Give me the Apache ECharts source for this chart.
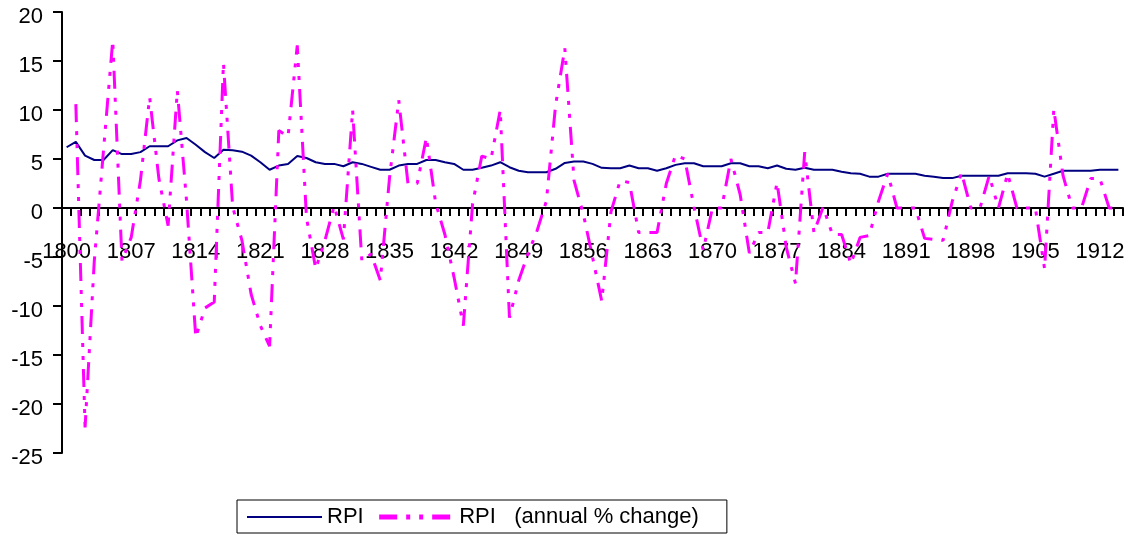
<!DOCTYPE html>
<html>
<head>
<meta charset="utf-8">
<script src="https://cdn.jsdelivr.net/npm/echarts@6/dist/echarts.min.js"></script>
<style>
html,body{margin:0;padding:0;background:#fff;}
#c{width:1134px;height:535px;}
</style>
</head>
<body>
<div id="c"></div>
<script>
var years = ['1800','1801','1802','1803','1804','1805','1806','1807','1808','1809',
'1810','1811','1812','1813','1814','1815','1816','1817','1818','1819',
'1820','1821','1822','1823','1824','1825','1826','1827','1828','1829',
'1830','1831','1832','1833','1834','1835','1836','1837','1838','1839',
'1840','1841','1842','1843','1844','1845','1846','1847','1848','1849',
'1850','1851','1852','1853','1854','1855','1856','1857','1858','1859',
'1860','1861','1862','1863','1864','1865','1866','1867','1868','1869',
'1870','1871','1872','1873','1874','1875','1876','1877','1878','1879',
'1880','1881','1882','1883','1884','1885','1886','1887','1888','1889',
'1890','1891','1892','1893','1894','1895','1896','1897','1898','1899',
'1900','1901','1902','1903','1904','1905','1906','1907','1908','1909',
'1910','1911','1912','1913','1914'];

var rpi = [6.2,6.75,5.35,4.9,4.9,5.9,5.5,5.5,5.7,6.3,
6.3,6.3,6.9,7.15,6.45,5.7,5.1,5.95,5.9,5.75,
5.35,4.67,3.9,4.33,4.5,5.3,5.1,4.67,4.5,4.5,
4.26,4.67,4.5,4.2,3.9,3.9,4.33,4.5,4.5,4.9,
4.9,4.67,4.5,3.9,3.9,4.1,4.33,4.67,4.16,3.8,
3.65,3.65,3.65,4.0,4.6,4.74,4.74,4.5,4.1,4.05,
4.05,4.33,4.05,4.05,3.8,4.05,4.4,4.57,4.57,4.26,
4.26,4.26,4.57,4.57,4.26,4.26,4.05,4.33,4.0,3.9,
4.1,3.9,3.9,3.9,3.7,3.55,3.5,3.2,3.2,3.5,
3.5,3.5,3.5,3.3,3.2,3.05,3.05,3.3,3.3,3.3,
3.3,3.3,3.55,3.55,3.55,3.5,3.2,3.5,3.8,3.8,
3.8,3.8,3.9,3.9,3.9];

var rpiChange = ['-',10.6,-22.4,-5.4,5.9,17.1,-5.4,-3.0,2.8,11.3,
3.0,-1.8,12.0,0.7,-13.2,-10.2,-9.6,14.8,0.1,-3.3,
-8.8,-12.0,-14.1,7.9,7.3,16.6,-1.0,-6.2,-3.3,0.2,
-3.2,10.0,-5.4,-4.7,-7.4,3.1,11.0,2.5,2.5,7.2,
0.5,-2.7,-7.1,-12.0,0.4,5.3,5.0,10.0,-11.2,-7.4,
-4.7,-2.3,0.7,10.5,16.3,2.8,-0.6,-5.0,-9.5,-0.4,
2.8,2.6,-2.5,-2.5,-2.5,2.5,5.4,5.0,0.1,-4.3,
0,0,5.0,1.4,-4.6,-2.5,-2.5,2.6,-4.0,-7.7,
5.7,-2.5,0.1,-2.7,-2.7,-5.7,-3.0,-2.8,0.7,3.5,
0,0,0,-3.1,-3.2,-3.3,0.7,3.6,0,0,
3.3,0,3.5,0,0,0,-6.2,10.1,3.3,0,
0,3.0,3.0,0,0];

var seriesNames = ['RPI', 'RPI   (annual % change)'];

var chart = echarts.init(document.getElementById('c'), null, {renderer: 'canvas'});
var font = 'Liberation Sans, Arial, sans-serif';
var dash = [18, 9, 4, 9, 4, 9];

var gridTop = 12, gridBottom = 82, gridH = 535 - gridTop - gridBottom;
var zeroOffset = -Math.round(gridH * 25 / 45);

chart.setOption({
  animation: false,
  backgroundColor: '#ffffff',
  textStyle: {fontFamily: font},
  grid: {left: 62, right: 11, top: gridTop, bottom: gridBottom, containLabel: false},
  legend: {
    left: 237, top: 500,
    borderColor: '#000', borderWidth: 1,
    padding: [6, 28, 5, 9],
    itemWidth: 75, itemHeight: 14, itemGap: 13,
    itemStyle: {opacity: 0},
    textStyle: {fontSize: 22, color: '#000', fontFamily: font},
    data: [
      {name: seriesNames[0], lineStyle: {width: 2}},
      {name: seriesNames[1], lineStyle: {width: 5}}
    ]
  },
  xAxis: {
    type: 'category',
    data: years,
    boundaryGap: true,
    offset: zeroOffset,
    axisLine: {onZero: false, lineStyle: {color: '#000', width: 2}},
    axisTick: {show: true, interval: 0, length: 8, alignWithLabel: false, lineStyle: {color: '#000', width: 2}},
    axisLabel: {interval: 6, margin: 33, fontSize: 22, color: '#000', fontFamily: font, hideOverlap: false},
    splitLine: {show: false}
  },
  yAxis: {
    type: 'value',
    min: -25, max: 20, interval: 5,
    axisLine: {show: true, lineStyle: {color: '#000', width: 2}},
    axisTick: {show: true, length: 9, lineStyle: {color: '#000', width: 2}},
    axisLabel: {margin: 19, fontSize: 22, color: '#000', fontFamily: font, verticalAlign: 'top', lineHeight: 10},
    splitLine: {show: false}
  },
  series: [
    {
      name: seriesNames[0], type: 'line', data: rpi,
      symbol: 'none', smooth: false,
      lineStyle: {color: '#000080', width: 2},
      itemStyle: {color: '#000080'},
      z: 2
    },
    {
      name: seriesNames[1], type: 'line', data: rpiChange,
      symbol: 'none', smooth: false, connectNulls: false,
      lineStyle: {color: '#ff00ff', width: 3, type: dash},
      itemStyle: {color: '#ff00ff'},
      z: 3
    }
  ]
});
</script>
</body>
</html>
